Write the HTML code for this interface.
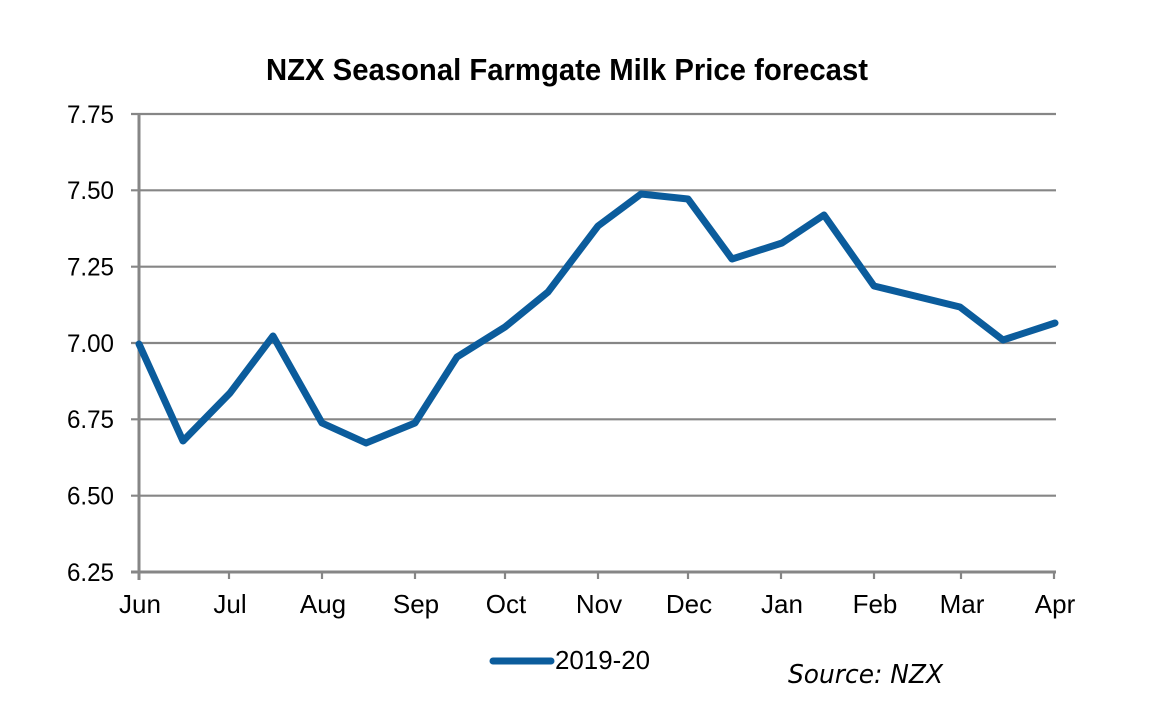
<!DOCTYPE html>
<html><head><meta charset="utf-8"><style>
html,body{margin:0;padding:0;background:#fff;}
svg{display:block;}
</style></head><body>
<svg width="1174" height="714" viewBox="0 0 1174 714" xmlns="http://www.w3.org/2000/svg">
<rect width="1174" height="714" fill="#fff"/>
<text x="266" y="80" font-family="Liberation Sans, Arial, sans-serif" font-weight="bold" font-size="31" textLength="602" lengthAdjust="spacingAndGlyphs" fill="#000">NZX Seasonal Farmgate Milk Price forecast</text>
<g stroke="#868686" stroke-width="2.2">
<line x1="131" y1="114" x2="1056" y2="114"/>
<line x1="131" y1="190.3" x2="1056" y2="190.3"/>
<line x1="131" y1="266.7" x2="1056" y2="266.7"/>
<line x1="131" y1="343" x2="1056" y2="343"/>
<line x1="131" y1="419.3" x2="1056" y2="419.3"/>
<line x1="131" y1="495.7" x2="1056" y2="495.7"/>
</g>
<g stroke="#868686" stroke-width="3">
<line x1="139" y1="114" x2="139" y2="580"/>
<line x1="131" y1="572" x2="1056" y2="572"/>
</g>
<g stroke="#868686" stroke-width="2.2">
<line x1="229" y1="572" x2="229" y2="579"/>
<line x1="322" y1="572" x2="322" y2="579"/>
<line x1="415" y1="572" x2="415" y2="579"/>
<line x1="505" y1="572" x2="505" y2="579"/>
<line x1="598" y1="572" x2="598" y2="579"/>
<line x1="688" y1="572" x2="688" y2="579"/>
<line x1="781" y1="572" x2="781" y2="579"/>
<line x1="874" y1="572" x2="874" y2="579"/>
<line x1="961" y1="572" x2="961" y2="579"/>
<line x1="1054" y1="572" x2="1054" y2="579"/>
</g>
<g font-family="Liberation Sans, Arial, sans-serif" font-size="25" fill="#000" text-anchor="end">
<text x="114" y="123" textLength="47" lengthAdjust="spacingAndGlyphs">7.75</text>
<text x="114" y="199" textLength="47" lengthAdjust="spacingAndGlyphs">7.50</text>
<text x="114" y="275.5" textLength="47" lengthAdjust="spacingAndGlyphs">7.25</text>
<text x="114" y="352" textLength="47" lengthAdjust="spacingAndGlyphs">7.00</text>
<text x="114" y="428" textLength="47" lengthAdjust="spacingAndGlyphs">6.75</text>
<text x="114" y="504.5" textLength="47" lengthAdjust="spacingAndGlyphs">6.50</text>
<text x="114" y="581" textLength="47" lengthAdjust="spacingAndGlyphs">6.25</text>
</g>
<g font-family="Liberation Sans, Arial, sans-serif" font-size="26" fill="#000" text-anchor="middle">
<text x="140" y="613">Jun</text>
<text x="230" y="613">Jul</text>
<text x="323" y="613">Aug</text>
<text x="416" y="613">Sep</text>
<text x="506" y="613">Oct</text>
<text x="599" y="613">Nov</text>
<text x="689" y="613">Dec</text>
<text x="782" y="613">Jan</text>
<text x="875" y="613">Feb</text>
<text x="962" y="613">Mar</text>
<text x="1055" y="613">Apr</text>
</g>
<polyline fill="none" stroke="#0b5c9c" stroke-width="7" stroke-linejoin="round" stroke-linecap="round"
points="139,344 183,441 230,393 273,336 322,423 366,443 415,423 457,357 505,327 548,292 598,226 641,194 688,199 732,259 782,243 824,215 874,286 960,307 1003,340 1055,323"/>
<line x1="493" y1="661" x2="551" y2="661" stroke="#0b5c9c" stroke-width="7" stroke-linecap="round"/>
<text x="555" y="669" font-family="Liberation Sans, Arial, sans-serif" font-size="26" fill="#000" textLength="95" lengthAdjust="spacingAndGlyphs">2019-20</text>
<text x="788" y="683" font-family="DejaVu Sans, Liberation Sans, sans-serif" font-style="italic" font-size="26" fill="#000" textLength="155" lengthAdjust="spacingAndGlyphs">Source: NZX</text>
</svg>
</body></html>
